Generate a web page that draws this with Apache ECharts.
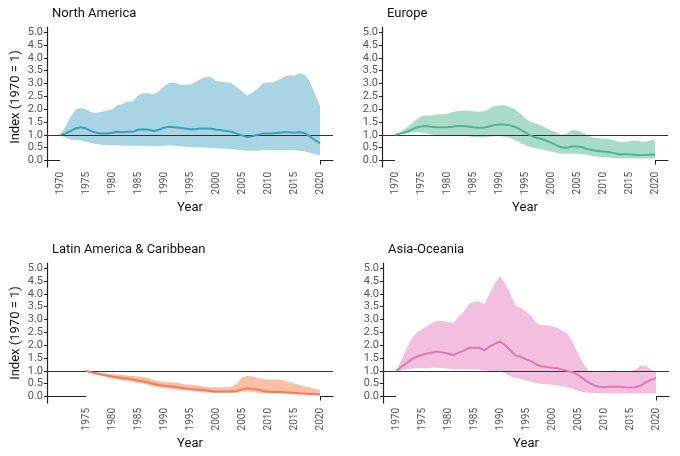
<!DOCTYPE html>
<html>
<head>
<meta charset="utf-8">
<script src="https://cdn.jsdelivr.net/npm/echarts@6/dist/echarts.min.js"></script>
<style>html,body{margin:0;background:#fff}#chart{width:680px;height:456px}</style>
</head>
<body>
<div id="chart"></div>
<script>
const years = [];
for (let y = 1970; y <= 2020; y++) years.push(y);
const yTicks = [0, 0.5, 1, 1.5, 2, 2.5, 3, 3.5, 4, 4.5, 5];
const xTicks = [1970, 1975, 1980, 1985, 1990, 1995, 2000, 2005, 2010, 2015, 2020];
const xTicksLatin = [1975, 1980, 1985, 1990, 1995, 2000, 2005, 2010, 2015, 2020];

const naMean = [1.0,1.05,1.15,1.25,1.3,1.25,1.15,1.08,1.05,1.05,1.08,1.12,1.1,1.12,1.12,1.2,1.22,1.2,1.15,1.2,1.28,1.32,1.3,1.28,1.25,1.22,1.22,1.25,1.25,1.25,1.2,1.18,1.15,1.12,1.05,0.98,0.92,0.95,1.0,1.05,1.05,1.05,1.08,1.1,1.1,1.08,1.1,1.08,0.95,0.8,0.68];
const naUpper = [1.0,1.3,1.7,2.0,2.05,2.0,1.88,1.85,1.9,1.95,2.0,2.15,2.2,2.3,2.3,2.55,2.62,2.62,2.58,2.7,2.9,3.02,3.05,2.95,2.95,2.95,3.05,3.18,3.25,3.25,3.1,3.08,3.05,3.02,2.85,2.7,2.52,2.65,2.8,3.0,3.05,3.05,3.15,3.25,3.32,3.3,3.4,3.35,3.1,2.6,2.15];
const naLower = [1.0,0.9,0.82,0.8,0.78,0.72,0.68,0.65,0.62,0.6,0.6,0.6,0.58,0.58,0.58,0.58,0.57,0.56,0.56,0.57,0.58,0.6,0.58,0.56,0.54,0.52,0.52,0.52,0.5,0.5,0.48,0.47,0.46,0.45,0.42,0.4,0.38,0.38,0.38,0.4,0.4,0.4,0.4,0.4,0.4,0.4,0.38,0.35,0.3,0.25,0.22];

const euMean = [1.0,1.05,1.1,1.18,1.28,1.33,1.35,1.32,1.3,1.3,1.3,1.32,1.35,1.35,1.33,1.3,1.28,1.28,1.33,1.38,1.4,1.4,1.38,1.32,1.22,1.1,0.98,0.9,0.85,0.78,0.7,0.6,0.52,0.5,0.55,0.55,0.52,0.45,0.4,0.37,0.35,0.33,0.3,0.25,0.25,0.25,0.23,0.22,0.22,0.23,0.24];
const euUpper = [1.0,1.1,1.25,1.4,1.58,1.72,1.75,1.75,1.78,1.8,1.82,1.88,1.93,1.95,1.95,1.92,1.9,1.92,2.0,2.12,2.15,2.15,2.1,2.0,1.85,1.65,1.52,1.45,1.38,1.28,1.18,1.1,1.0,1.05,1.18,1.18,1.1,1.0,0.9,0.88,0.86,0.85,0.8,0.72,0.72,0.75,0.78,0.75,0.72,0.78,0.82];
const euLower = [1.0,1.02,1.05,1.08,1.1,1.08,1.05,1.02,1.0,1.0,1.0,1.0,1.0,0.98,0.95,0.92,0.9,0.9,0.92,0.95,0.95,0.93,0.88,0.8,0.7,0.6,0.52,0.48,0.44,0.4,0.35,0.3,0.27,0.27,0.27,0.27,0.25,0.22,0.18,0.15,0.12,0.12,0.1,0.08,0.08,0.08,0.08,0.08,0.08,0.08,0.08];

// Latin America series starts in 1975
const laYears = years.filter(y => y >= 1975);
const laMean = [1.0,0.95,0.9,0.86,0.82,0.78,0.75,0.72,0.7,0.67,0.63,0.6,0.55,0.5,0.45,0.42,0.4,0.38,0.35,0.32,0.3,0.28,0.27,0.25,0.22,0.2,0.2,0.2,0.2,0.22,0.28,0.32,0.3,0.28,0.22,0.2,0.18,0.18,0.17,0.16,0.15,0.13,0.12,0.1,0.1,0.08];
const laUpper = [1.0,0.98,0.95,0.92,0.9,0.88,0.86,0.84,0.82,0.8,0.78,0.76,0.72,0.65,0.6,0.58,0.56,0.55,0.52,0.48,0.46,0.44,0.42,0.38,0.36,0.36,0.36,0.36,0.38,0.5,0.75,0.8,0.78,0.72,0.68,0.66,0.66,0.66,0.64,0.58,0.52,0.46,0.4,0.35,0.3,0.25];
const laLower = [1.0,0.92,0.85,0.8,0.75,0.7,0.66,0.62,0.6,0.57,0.53,0.5,0.45,0.38,0.35,0.32,0.3,0.28,0.26,0.24,0.22,0.2,0.18,0.16,0.15,0.14,0.14,0.14,0.14,0.15,0.18,0.2,0.18,0.15,0.14,0.12,0.12,0.12,0.11,0.1,0.08,0.07,0.06,0.05,0.05,0.04];

const asMean = [1.0,1.15,1.3,1.45,1.55,1.62,1.68,1.72,1.75,1.72,1.68,1.62,1.7,1.78,1.9,1.9,1.9,1.8,1.95,2.05,2.15,2.0,1.8,1.6,1.55,1.45,1.38,1.25,1.18,1.15,1.12,1.1,1.05,1.0,0.95,0.85,0.7,0.55,0.45,0.38,0.36,0.38,0.38,0.38,0.36,0.35,0.36,0.42,0.55,0.65,0.72];
const asUpper = [1.0,1.4,1.85,2.25,2.5,2.62,2.75,2.88,2.95,2.95,2.9,2.85,3.1,3.3,3.6,3.7,3.7,3.6,4.0,4.4,4.68,4.4,4.0,3.55,3.45,3.3,3.15,2.85,2.78,2.78,2.75,2.68,2.55,2.45,2.1,1.7,1.3,1.0,0.95,0.95,0.98,1.0,1.02,1.0,0.95,0.98,1.05,1.2,1.2,1.05,0.95];
const asLower = [1.0,1.02,1.05,1.08,1.1,1.1,1.1,1.12,1.12,1.1,1.08,1.06,1.06,1.06,1.05,1.05,1.05,1.02,1.0,1.0,0.98,0.9,0.78,0.72,0.68,0.62,0.58,0.52,0.5,0.48,0.46,0.42,0.4,0.36,0.3,0.22,0.18,0.15,0.14,0.13,0.12,0.12,0.12,0.12,0.12,0.12,0.12,0.12,0.12,0.12,0.12];

const panels = [
  { title: 'North America', x: years, mean: naMean, upper: naUpper, lower: naLower, band: '#a8d4e4', line: '#3b9fc1', left: 47, top: 27, ticks: xTicks, yName: true },
  { title: 'Europe', x: years, mean: euMean, upper: euUpper, lower: euLower, band: '#a9dcc7', line: '#4db590', left: 382, top: 27, ticks: xTicks, yName: false },
  { title: 'Latin America & Caribbean', x: laYears, mean: laMean, upper: laUpper, lower: laLower, band: '#f8c0a8', line: '#ef7f5a', left: 47, top: 263, ticks: xTicksLatin, yName: true },
  { title: 'Asia-Oceania', x: years, mean: asMean, upper: asUpper, lower: asLower, band: '#f2bfdf', line: '#dd78b6', left: 383, top: 263, ticks: xTicks, yName: false }
];

const font = 'Roboto, "Liberation Sans", sans-serif';
const axisColor = '#222';
const option = { animation: false, title: [], grid: [], xAxis: [], yAxis: [], series: [] };

panels.forEach((p, i) => {
  option.title.push({ text: p.title, left: p.left, top: p.top - 25,
    textStyle: { fontSize: 13, fontWeight: 'normal', color: '#111', fontFamily: font } });
  option.grid.push({ left: p.left, top: p.top, width: 286, height: 140 });
  option.xAxis.push({
    type: 'value', gridIndex: i, min: 1967.5, max: 2022.5,
    name: 'Year', nameLocation: 'middle', nameGap: 34,
    nameTextStyle: { fontSize: 13, color: '#111', fontFamily: font },
    axisLine: { lineStyle: { color: axisColor, width: 1.2 } },
    axisTick: { customValues: p.ticks, length: 4, lineStyle: { color: axisColor } },
    axisLabel: { customValues: p.ticks, rotate: 90, fontSize: 10, color: '#555', fontFamily: font, margin: 5,
      formatter: v => String(v) },
    splitLine: { show: false }
  });
  option.yAxis.push({
    type: 'value', gridIndex: i, min: -0.25, max: 5.2,
    name: p.yName ? 'Index (1970 = 1)' : '', nameLocation: 'middle', nameGap: 25,
    nameTextStyle: { fontSize: 13, color: '#111', fontFamily: font },
    axisLine: { show: true, lineStyle: { color: axisColor, width: 1.2 } },
    axisTick: { show: true, customValues: yTicks, length: 3, lineStyle: { color: axisColor } },
    axisLabel: { customValues: yTicks, fontSize: 11, color: '#555', fontFamily: font, margin: 4,
      formatter: v => v.toFixed(1) },
    splitLine: { show: false }
  });
  // band: upper filled in colour, then lower filled in white on top of it
  option.series.push({
    type: 'line', xAxisIndex: i, yAxisIndex: i, data: p.x.map((y, k) => [y, p.upper[k]]),
    symbol: 'none', lineStyle: { width: 0 }, z: 1, silent: true,
    areaStyle: { color: p.band, opacity: 1, origin: 'start' }
  });
  option.series.push({
    type: 'line', xAxisIndex: i, yAxisIndex: i, data: p.x.map((y, k) => [y, p.lower[k]]),
    symbol: 'none', lineStyle: { width: 0 }, z: 2, silent: true,
    areaStyle: { color: '#fff', opacity: 1, origin: 'start' }
  });
  option.series.push({
    type: 'line', xAxisIndex: i, yAxisIndex: i, data: p.x.map((y, k) => [y, p.mean[k]]),
    symbol: 'none', lineStyle: { color: p.line, width: 2 }, z: 5,
    markLine: { silent: true, symbol: 'none', label: { show: false },
      lineStyle: { color: '#333', width: 1.2, type: 'solid' }, data: [{ yAxis: 1 }] }
  });
});

const chart = echarts.init(document.getElementById('chart'));
chart.setOption(option);
</script>
</body>
</html>
